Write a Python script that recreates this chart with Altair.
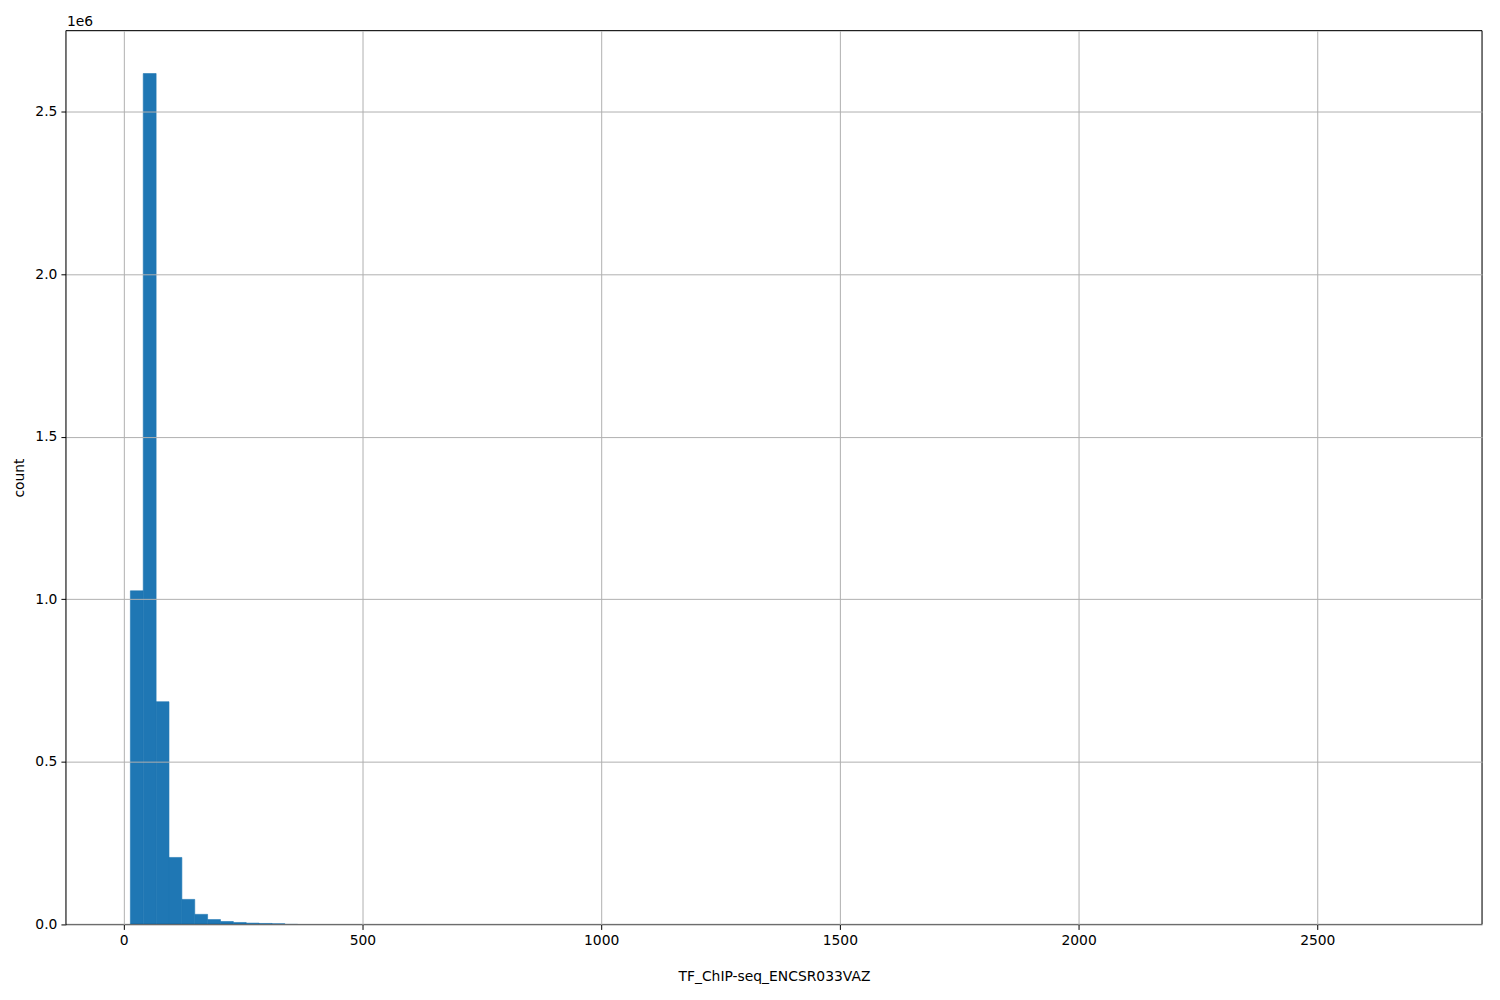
import altair as alt
import pandas as pd
import numpy as np

# Histogram definition
bin_min = 14.0
bin_max = 2710.0
n_bins = 100

counts = [
    1026000, 2617000, 685000, 206000, 77000, 31000, 15000, 9000, 6000, 4000,
    3000, 2200, 1600, 1200, 900, 700, 520, 400, 310, 240,
    190, 150, 120, 95, 75, 60, 48, 38, 30, 25,
    20, 17, 14, 12, 10, 8, 7, 6, 5, 5,
    4, 4, 3, 3, 2, 2, 2, 2, 1, 1,
    1, 1, 1, 0, 1, 0, 1, 0, 0, 1,
    0, 0, 1, 0, 0, 0, 1, 0, 0, 0,
    0, 1, 0, 0, 0, 0, 0, 1, 0, 0,
    0, 0, 0, 0, 1, 0, 0, 0, 0, 0,
    0, 0, 1, 0, 0, 0, 0, 0, 0, 1,
]

x_ticks = [0, 500, 1000, 1500, 2000, 2500]
y_ticks = [0, 500000, 1000000, 1500000, 2000000, 2500000]

edges = np.linspace(bin_min, bin_max, n_bins + 1)
df = pd.DataFrame({"lo": edges[:-1], "hi": edges[1:], "count": counts})

W, H = 1418, 895
x_dom = [-121, 2845]
y_dom = [0, 2749000]

font = "DejaVu Sans"
fs = 13.9

bars = alt.Chart(df).mark_rect(color="#1f77b4", stroke="#1f77b4", strokeWidth=0.6).encode(
    x=alt.X("lo:Q", scale=alt.Scale(domain=x_dom, nice=False, zero=False),
            axis=alt.Axis(values=x_ticks, format="d", title="TF_ChIP-seq_ENCSR033VAZ",
                          grid=True, gridColor="#b0b0b0", gridWidth=1,
                          domain=False, tickColor="black", tickSize=5, labelPadding=4,
                          labelColor="black", labelFont=font, labelFontSize=fs,
                          titleFont=font, titleFontSize=fs, titleFontWeight="normal",
                          titleColor="black", titleY=52, titleBaseline="middle",
                          labelFlush=False, zindex=1)),
    x2="hi:Q",
    y=alt.Y("count:Q", scale=alt.Scale(domain=y_dom, nice=False),
            axis=alt.Axis(values=y_ticks, labelExpr="format(datum.value/1e6, '.1f')",
                          title="count", grid=True, gridColor="#b0b0b0", gridWidth=1,
                          domain=False, tickColor="black", tickSize=5, labelPadding=4,
                          labelColor="black", labelFont=font, labelFontSize=fs,
                          titleFont=font, titleFontSize=fs, titleFontWeight="normal",
                          titleColor="black", titleX=-46, titleY=H / 2,
                          titleBaseline="middle", labelFlush=False, zindex=1)),
    y2=alt.datum(0),
    strokeOpacity=alt.condition(alt.datum.count > 2000, alt.value(1), alt.value(0)),
)

exp_text = alt.Chart(pd.DataFrame({"t": ["1e6"]})).mark_text(
    align="left", baseline="alphabetic", font=font, fontSize=fs, color="black"
).encode(x=alt.value(1), y=alt.value(-5), text="t:N")

frame = alt.Chart(pd.DataFrame({"f": [0]})).mark_rect(
    fill=None, fillOpacity=0, stroke="black", strokeWidth=1
).encode(x=alt.value(0), x2=alt.value(W), y=alt.value(0), y2=alt.value(H))

chart = alt.layer(bars, frame, exp_text).properties(
    width=W, height=H,
    autosize=alt.AutoSizeParams(type="none"),
    padding={"left": 58, "top": 22, "right": 10, "bottom": 70},
).configure_view(stroke=None).configure(background="white")

chart.save("out.html", embed_options={"renderer": "svg", "actions": False})
